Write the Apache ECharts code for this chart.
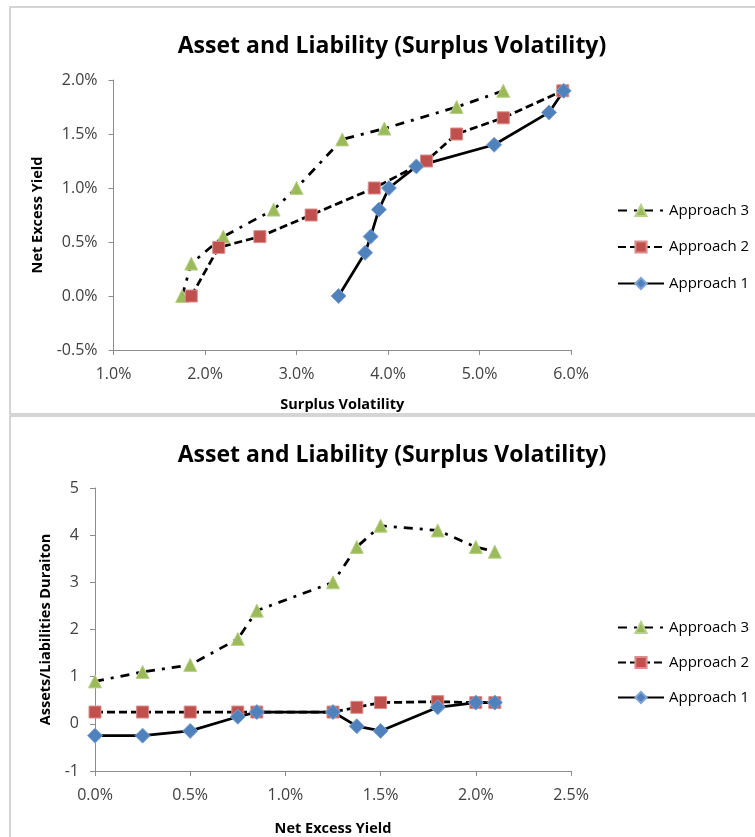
<!DOCTYPE html>
<html>
<head>
<meta charset="utf-8">
<script src="https://cdn.jsdelivr.net/npm/echarts@6/dist/echarts.min.js"></script>
<style>
html, body { margin: 0; padding: 0; background: #fff; }
#main { width: 755px; height: 837px; }
</style>
</head>
<body>
<div id="main"></div>
<script>
// top chart: surplus volatility (x, %) against net excess yield (y, %)
var volA1 = [3.46, 3.75, 3.81, 3.90, 4.01, 4.31, 5.16, 5.76, 5.92];
var yldA1 = [0.00, 0.40, 0.55, 0.80, 1.00, 1.20, 1.40, 1.70, 1.90];
var volA2 = [1.85, 2.15, 2.60, 3.16, 3.85, 4.42, 4.75, 5.26, 5.91];
var yldA2 = [0.00, 0.45, 0.55, 0.75, 1.00, 1.25, 1.50, 1.65, 1.90];
var volA3 = [1.75, 1.85, 2.20, 2.75, 3.00, 3.50, 3.96, 4.75, 5.26];
var yldA3 = [0.00, 0.30, 0.55, 0.80, 1.00, 1.45, 1.55, 1.75, 1.90];

// bottom chart: net excess yield (x, %) against assets/liabilities duration (y)
var nxyA1 = [0, 0.25, 0.5, 0.75, 0.85, 1.25, 1.375, 1.5, 1.8, 2.0, 2.1];
var durA1 = [-0.25, -0.25, -0.15, 0.15, 0.25, 0.25, -0.05, -0.15, 0.35, 0.45, 0.45];
var nxyA2 = [0, 0.25, 0.5, 0.75, 0.85, 1.25, 1.375, 1.5, 1.8, 2.0, 2.1];
var durA2 = [0.25, 0.25, 0.25, 0.25, 0.25, 0.25, 0.35, 0.45, 0.47, 0.45, 0.45];
var nxyA3 = [0, 0.25, 0.5, 0.75, 0.85, 1.25, 1.375, 1.5, 1.8, 2.0, 2.1];
var durA3 = [0.9, 1.1, 1.25, 1.8, 2.4, 3.0, 3.75, 4.2, 4.1, 3.75, 3.65];

var names = ['Approach 3', 'Approach 2', 'Approach 1'];
var chartTitle = 'Asset and Liability (Surplus Volatility)';

var FONT = 'Open Sans';
var GRAY = '#8c8c8c';

function pts(xs, ys) {
	var out = [];
	for (var i = 0; i < xs.length; i++) {
		out.push([xs[i], ys[i]]);
	}
	return out;
}

function pct(v) {
	return v.toFixed(1) + '%';
}

// marker + line look of each approach
var look = {
	'Approach 1': { symbol: 'diamond', symbolSize: 15, color: '#4F81BD', border: '#7FA3D3', dash: 'solid' },
	'Approach 2': { symbol: 'rect', symbolSize: 12, color: '#C0504D', border: '#DA8D8B', dash: [8, 4] },
	'Approach 3': { symbol: 'triangle', symbolSize: 13, color: '#9BBB59', border: '#B9D08A', dash: [9, 7, 3, 7] }
};

function mkSeries(name, idx, data) {
	var l = look[name];
	return {
		name: name,
		type: 'line',
		xAxisIndex: idx,
		yAxisIndex: idx,
		data: data,
		symbol: l.symbol,
		symbolSize: l.symbolSize,
		showAllSymbol: true,
		lineStyle: { color: '#000', width: 2.75, type: l.dash },
		itemStyle: { color: l.color, borderColor: l.border, borderWidth: 1 },
		emphasis: { disabled: true }
	};
}

function valAxis(idx, min, max, step, fmt, name, gap) {
	return {
		type: 'value',
		gridIndex: idx,
		min: min,
		max: max,
		interval: step,
		name: name,
		nameLocation: 'middle',
		nameGap: gap,
		nameTextStyle: { fontFamily: FONT, fontSize: 14.5, fontWeight: 'bold', color: '#000' },
		axisLine: { show: true, onZero: false, lineStyle: { color: GRAY, width: 1 } },
		axisTick: { show: true, length: 5, lineStyle: { color: GRAY } },
		axisLabel: { formatter: fmt, fontFamily: FONT, fontSize: 16, color: '#404040', margin: 16 },
		splitLine: { show: false }
	};
}

function legendAt(top, gap) {
	return {
		data: names,
		orient: 'vertical',
		left: 612,
		top: top,
		itemWidth: 46,
		itemHeight: 14,
		itemGap: gap,
		selectedMode: false,
		textStyle: { fontFamily: FONT, fontSize: 15, color: '#000', lineHeight: 14 }
	};
}

var myCharts = echarts.init(document.getElementById('main'));
var option = {
	animation: false,
	backgroundColor: '#fff',
	graphic: [
		{ type: 'rect', silent: true, z: -1, shape: { x: 10, y: 7, width: 760, height: 407 }, style: { fill: 'none', stroke: '#c8c8c8', lineWidth: 1.5 } },
		{ type: 'rect', silent: true, z: -1, shape: { x: 10, y: 416, width: 760, height: 440 }, style: { fill: 'none', stroke: '#c8c8c8', lineWidth: 1.5 } },
		{ type: 'text', x: 392, y: 46, style: { text: chartTitle, align: 'center', verticalAlign: 'middle', font: 'bold 23px "Open Sans"', fill: '#000' } },
		{ type: 'text', x: 392, y: 455, style: { text: chartTitle, align: 'center', verticalAlign: 'middle', font: 'bold 23px "Open Sans"', fill: '#000' } }
	],
	legend: [legendAt(198, 21.5), legendAt(615, 20)],
	grid: [
		{ left: 113.5, top: 80, width: 457.5, height: 270 },
		{ left: 95, top: 488, width: 476, height: 284 }
	],
	xAxis: [
		valAxis(0, 1, 6, 1, pct, 'Surplus Volatility', 47),
		valAxis(1, 0, 2.5, 0.5, pct, 'Net Excess Yield', 50)
	],
	yAxis: [
		valAxis(0, -0.5, 2, 0.5, pct, 'Net Excess Yield', 64),
		valAxis(1, -1, 5, 1, function (v) { return String(v); }, 'Assets/Liabilities Duraiton', 34)
	],
	series: [
		mkSeries('Approach 3', 0, pts(volA3, yldA3)),
		mkSeries('Approach 2', 0, pts(volA2, yldA2)),
		mkSeries('Approach 1', 0, pts(volA1, yldA1)),
		mkSeries('Approach 3', 1, pts(nxyA3, durA3)),
		mkSeries('Approach 2', 1, pts(nxyA2, durA2)),
		mkSeries('Approach 1', 1, pts(nxyA1, durA1))
	]
};
myCharts.setOption(option);
</script>
</body>
</html>
